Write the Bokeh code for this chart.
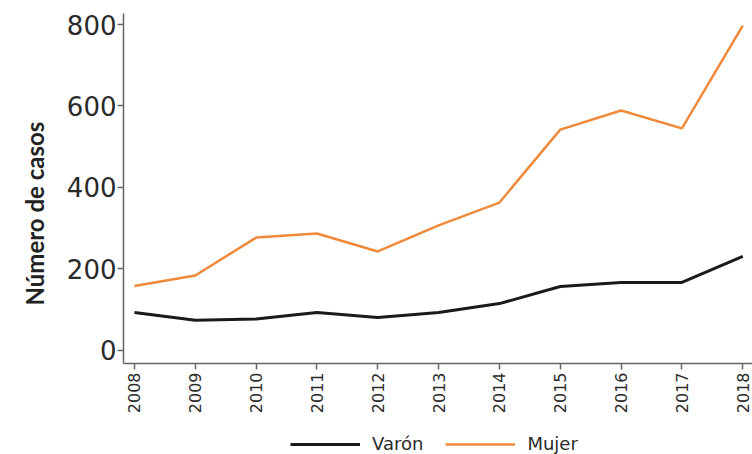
from bokeh.plotting import figure
from bokeh.layouts import column
from bokeh.models import Range1d, Legend, LegendItem, FixedTicker, Title
from bokeh.embed import file_html
from bokeh.resources import INLINE

years = [2008, 2009, 2010, 2011, 2012, 2013, 2014, 2015, 2016, 2017, 2018]
varon = [93, 74, 77, 93, 81, 93, 115, 157, 167, 167, 231]
mujer = [158, 184, 277, 287, 243, 307, 363, 542, 589, 545, 797]
y_ticks = [0, 200, 400, 600, 800]
series_names = ["Varón", "Mujer"]
series_colors = ["#1a1a1a", "#f08a3a"]

TICK_FONT = "DejaVu Sans"
TITLE_FONT = "Lato"

p = figure(width=752, height=418, output_backend="svg", toolbar_location=None,
           x_range=Range1d(2007.82, 2018.16), y_range=Range1d(-32, 827),
           min_border_left=123, min_border_right=0, min_border_top=13, min_border_bottom=55)
p.outline_line_color = None
p.xgrid.grid_line_color = None
p.ygrid.grid_line_color = None

p.line(years, varon, line_color=series_colors[0], line_width=3)
p.line(years, mujer, line_color=series_colors[1], line_width=2.5)

for ax in (p.xaxis[0], p.yaxis[0]):
    ax.axis_line_color = "#666666"
    ax.axis_line_width = 1.5
    ax.major_tick_line_color = "#666666"
    ax.major_tick_line_width = 1.5
    ax.major_tick_out = 6
    ax.major_tick_in = 0
    ax.minor_tick_line_color = None
    ax.major_label_text_font = TICK_FONT
    ax.major_label_text_color = "#2a2a2a"

p.yaxis.ticker = FixedTicker(ticks=y_ticks)
p.yaxis.major_label_text_font_size = "26px"
p.yaxis.major_label_standoff = 1

ytitle = Title(text="Número de casos", align="left", offset=58,
               text_font=TITLE_FONT, text_font_style="bold", text_font_size="24px",
               text_color="#222222", standoff=30)
p.add_layout(ytitle, "left")

p.xaxis.ticker = FixedTicker(ticks=years)
p.xaxis.major_label_orientation = 1.5708
p.xaxis.major_label_text_font_size = "16px"
p.xaxis.major_label_standoff = 3

# legend strip below the chart
lg = figure(width=752, height=36, output_backend="svg", toolbar_location=None,
            x_axis_type=None, y_axis_type=None,
            min_border_left=0, min_border_right=0, min_border_top=0, min_border_bottom=0)
lg.outline_line_color = None
lg.xgrid.grid_line_color = None
lg.ygrid.grid_line_color = None
lv = lg.line(years, varon, line_color=series_colors[0], line_width=3, visible=False)
lm = lg.line(years, mujer, line_color=series_colors[1], line_width=2.5, visible=False)

legend = Legend(items=[LegendItem(label=series_names[0], renderers=[lv]),
                       LegendItem(label=series_names[1], renderers=[lm])],
                orientation="horizontal", location=(167, 0),
                glyph_width=70, glyph_height=18, label_standoff=12, spacing=22,
                label_text_font=TICK_FONT, label_text_font_size="18px",
                label_text_color="#2a2a2a", border_line_color=None,
                background_fill_alpha=0, inactive_fill_alpha=0,
                padding=3, margin=0)
lg.add_layout(legend, "center")

layout = column(p, lg, spacing=0)
open("out.html", "w").write(file_html(layout, INLINE))
